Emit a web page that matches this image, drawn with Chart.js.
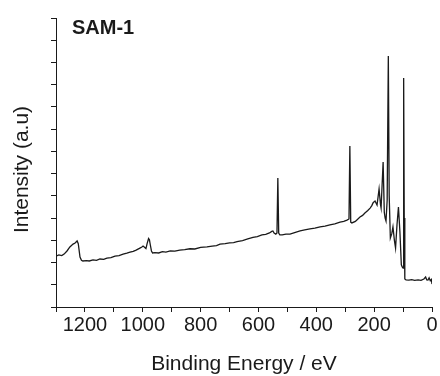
<!DOCTYPE html>
<html>
<head>
<meta charset="utf-8">
<script src="https://cdn.jsdelivr.net/npm/chart.js@4.4.1/dist/chart.umd.min.js"></script>
<style>
  html, body { margin: 0; padding: 0; background: #fff; }
  #chart { display: block; }
</style>
</head>
<body>
<canvas id="chart" width="440" height="376"></canvas>
<script>
// --- DATA ---
const sampleName = 'SAM-1';
const xTitle = 'Binding Energy / eV';
const yTitle = 'Intensity (a.u)';
const xTickLabels = [0, 200, 400, 600, 800, 1000, 1200];

const bindingEnergy = [
  1300, 1290, 1280, 1272, 1262, 1252, 1241, 1234, 1227, 1223, 1217, 1212, 1207,
  1195, 1185, 1172, 1160, 1148, 1135, 1124, 1110, 1096, 1082, 1068, 1055, 1044,
  1033, 1023, 1010, 1003, 999, 993, 989, 985, 980, 977, 974, 970, 966,
  958, 945, 932, 920, 905, 889, 872, 855, 837, 820, 800, 778, 760, 745, 733,
  715, 700, 686, 674, 655, 637, 619, 604, 588, 575, 562, 554, 550, 546, 540,
  536, 533, 530, 526, 518, 505, 491, 475, 456, 440, 422, 405, 387, 370, 353,
  336, 318, 305, 294, 287, 284, 281, 277, 265, 249, 240, 232, 222, 214, 208,
  204, 200, 197, 190, 183, 178, 176, 169, 165, 162, 159, 155, 151, 148, 144,
  139, 135, 130, 126, 121, 116, 111, 106, 103, 100, 98, 96, 94,
  90, 80, 70, 60, 48, 38, 28, 22, 18, 14, 10, 6, 2, 0
];
const intensity = [
  2.29, 2.34, 2.31, 2.38, 2.52, 2.70, 2.83, 2.88, 2.97, 2.85, 2.25, 2.10, 2.07,
  2.09, 2.07, 2.12, 2.10, 2.16, 2.14, 2.20, 2.22, 2.29, 2.31, 2.38, 2.42, 2.47,
  2.50, 2.56, 2.65, 2.70, 2.74, 2.68, 2.63, 2.85, 3.08, 3.02, 2.80, 2.52, 2.43,
  2.45, 2.43, 2.49, 2.47, 2.52, 2.51, 2.56, 2.58, 2.62, 2.61, 2.68, 2.70, 2.74, 2.76, 2.83,
  2.85, 2.88, 2.90, 2.94, 2.99, 3.06, 3.13, 3.17, 3.24, 3.27, 3.33, 3.40, 3.42, 3.33, 3.28,
  3.33, 5.80, 3.33, 3.24, 3.24, 3.28, 3.28, 3.35, 3.42, 3.47, 3.51, 3.55, 3.60, 3.64, 3.69,
  3.74, 3.82, 3.85, 3.91, 3.96, 7.24, 3.82, 3.78, 3.85, 4.05, 4.12, 4.23, 4.34, 4.45, 4.56,
  4.68, 4.74, 4.77, 4.59, 5.31, 4.60, 4.45, 6.52, 4.27, 4.00, 3.87, 4.81, 11.29, 5.00, 3.10,
  3.30, 3.60, 3.00, 2.65, 3.70, 4.50, 3.40, 1.90, 1.80, 1.75, 10.30, 4.00, 1.26,
  1.22, 1.21, 1.23, 1.20, 1.22, 1.20, 1.26, 1.35, 1.22, 1.21, 1.31, 1.18, 1.24, 1.03
];

// --- CHART ---
const ink = '#1a1a1a';
const fontFamily = '"Liberation Sans", Arial, Helvetica, sans-serif';

const textLabels = {
  id: 'textLabels',
  afterDraw(chart) {
    const ctx = chart.ctx;
    ctx.save();
    ctx.fillStyle = ink;
    ctx.textBaseline = 'alphabetic';
    ctx.font = `bold 20px ${fontFamily}`;
    ctx.fillText(sampleName, 72, 34);
    ctx.translate(28, 169.5);
    ctx.rotate(-Math.PI / 2);
    ctx.textAlign = 'center';
    ctx.font = `21px ${fontFamily}`;
    ctx.fillText(yTitle, 0, 0);
    ctx.restore();
  }
};

new Chart(document.getElementById('chart'), {
  type: 'line',
  data: {
    datasets: [{
      data: bindingEnergy.map((e, i) => ({ x: e, y: intensity[i] })),
      borderColor: ink, borderWidth: 1.3,
      pointRadius: 0, tension: 0, fill: false
    }]
  },
  options: {
    responsive: false, animation: false,
    layout: { padding: { top: 18, right: 8, left: 0, bottom: 0 } },
    plugins: { legend: { display: false }, tooltip: { enabled: false } },
    scales: {
      x: {
        type: 'linear', reverse: true, min: 0, max: 1300,
        border: { display: true, color: ink, width: 1 },
        grid: { drawOnChartArea: false, drawTicks: true, tickLength: 5, color: ink },
        ticks: {
          stepSize: 100, autoSkip: false, maxRotation: 0, padding: 1,
          color: ink, font: { family: fontFamily, size: 20 },
          callback: (v) => xTickLabels.includes(v) ? String(v) : ''
        },
        title: {
          display: true, text: xTitle, color: ink,
          font: { family: fontFamily, size: 21, lineHeight: 1 },
          padding: { top: 0, bottom: 1 }
        },
        afterFit: (scale) => { scale.height = 69; }
      },
      y: {
        min: 0, max: 13,
        border: { display: true, color: ink, width: 1 },
        grid: { drawOnChartArea: false, drawTicks: true, tickLength: 5, color: ink },
        ticks: { stepSize: 1, display: false },
        afterFit: (scale) => { scale.width = 56; }
      }
    }
  },
  plugins: [textLabels]
});
</script>
</body>
</html>
